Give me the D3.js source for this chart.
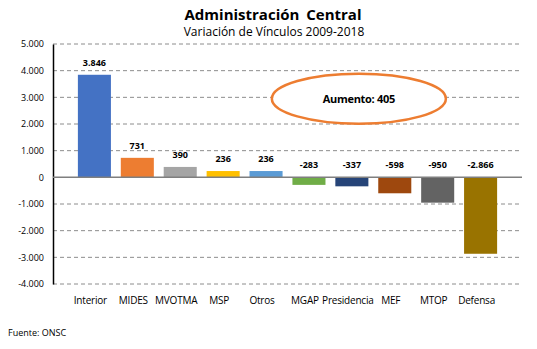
<!DOCTYPE html>
<html>
<head>
<meta charset="utf-8">
<script src="https://cdn.jsdelivr.net/npm/d3@7"></script>
<style>
  body { margin: 0; background: #fff; }
  text { font-family: "Open Sans", "Noto Sans", sans-serif; }
</style>
</head>
<body>
<div class="canva"></div>
<script>
const categories = ['Interior', 'MIDES', 'MVOTMA', 'MSP', 'Otros', 'MGAP', 'Presidencia', 'MEF', 'MTOP', 'Defensa']
const values = [3846, 731, 390, 236, 236, -283, -337, -598, -950, -2866]
const colors = ['#4472C4', '#ED7D31', '#A5A5A5', '#FFC000', '#5B9BD5', '#70AD47', '#264478', '#9E480E', '#636363', '#997300']
const yTicks = [5000, 4000, 3000, 2000, 1000, 0, -1000, -2000, -3000, -4000]
const totalLabel = 'Aumento: 405'

const width = 537, height = 349
const margin = { top: 44, right: 15, bottom: 65, left: 53 }

const loc = d3.formatLocale({ decimal: ',', thousands: '.', grouping: [3], currency: ['', ''], minus: '-' })
const fmt = loc.format(',d')

const svg = d3.select('.canva').append('svg')
  .attr('width', width)
  .attr('height', height)

const x = d3.scaleBand()
  .domain(categories)
  .range([margin.left, width - margin.right])
  .paddingInner(0.23)
  .paddingOuter(0.58)

const y = d3.scaleLinear()
  .domain([-4000, 5000])
  .range([height - margin.bottom, margin.top])

// titles
svg.append('text')
  .attr('x', 273).attr('y', 20)
  .attr('text-anchor', 'middle')
  .attr('font-size', 15).attr('font-weight', 'bold')
  .style('word-spacing', '3px')
  .text('Administración Central')

svg.append('text')
  .attr('x', 274).attr('y', 36)
  .attr('text-anchor', 'middle')
  .attr('font-size', 12)
  .text('Variación de Vínculos 2009-2018')

// grid
svg.append('g').selectAll('line')
  .data(yTicks.filter(d => d !== 0))
  .enter().append('line')
  .attr('x1', margin.left).attr('x2', width - margin.right)
  .attr('y1', d => y(d)).attr('y2', d => y(d))
  .attr('stroke', '#8c8c8c')
  .attr('stroke-dasharray', '4,3')
  .attr('stroke-width', 1)

// y axis
const yAxis = svg.append('g')
  .attr('transform', `translate(${margin.left},0)`)
  .call(d3.axisLeft(y).tickValues(yTicks).tickFormat(fmt).tickSize(0).tickPadding(9))
yAxis.select('.domain').attr('stroke', '#000').attr('stroke-width', 1.5)
yAxis.selectAll('text').attr('font-size', 9).attr('fill', '#000')
  .style('font-family', '"Open Sans", sans-serif')

// bars
svg.append('g').selectAll('rect')
  .data(values)
  .enter().append('rect')
  .attr('x', (d, i) => x(categories[i]))
  .attr('width', x.bandwidth())
  .attr('y', d => y(Math.max(0, d)))
  .attr('height', d => Math.abs(y(d) - y(0)))
  .attr('fill', (d, i) => colors[i])

// zero line
svg.append('line')
  .attr('x1', margin.left).attr('x2', width - margin.right)
  .attr('y1', y(0)).attr('y2', y(0))
  .attr('stroke', '#7f7f7f').attr('stroke-width', 1.5)

// value labels
svg.append('g').selectAll('text')
  .data(values)
  .enter().append('text')
  .attr('x', (d, i) => x(categories[i]) + x.bandwidth() / 2)
  .attr('y', d => (d > 0 ? y(d) : y(0)) - 9)
  .attr('text-anchor', 'middle')
  .attr('font-size', 9).attr('font-weight', 'bold')
  .text(d => fmt(d))

// category labels
svg.append('g').selectAll('text')
  .data(categories)
  .enter().append('text')
  .attr('x', d => x(d) + x.bandwidth() / 2 - 4)
  .attr('y', y(-4000) + 20)
  .attr('text-anchor', 'middle')
  .attr('font-size', 10)
  .style('letter-spacing', '-0.2px')
  .text(d => d)

// annotation
const ax = x('Presidencia') + x.bandwidth() / 2 + 7
const ay = y(2950)
svg.append('ellipse')
  .attr('cx', ax).attr('cy', ay)
  .attr('rx', 87).attr('ry', 25)
  .attr('fill', '#fff')
  .attr('stroke', '#ED7D31').attr('stroke-width', 2.5)
svg.append('text')
  .attr('x', ax).attr('y', ay + 4)
  .attr('text-anchor', 'middle')
  .attr('font-size', 11).attr('font-weight', 'bold')
  .style('letter-spacing', '-0.3px')
  .text(totalLabel)

svg.append('text')
  .attr('x', 8).attr('y', 336)
  .attr('font-size', 9)
  .text('Fuente: ONSC')
</script>
</body>
</html>
